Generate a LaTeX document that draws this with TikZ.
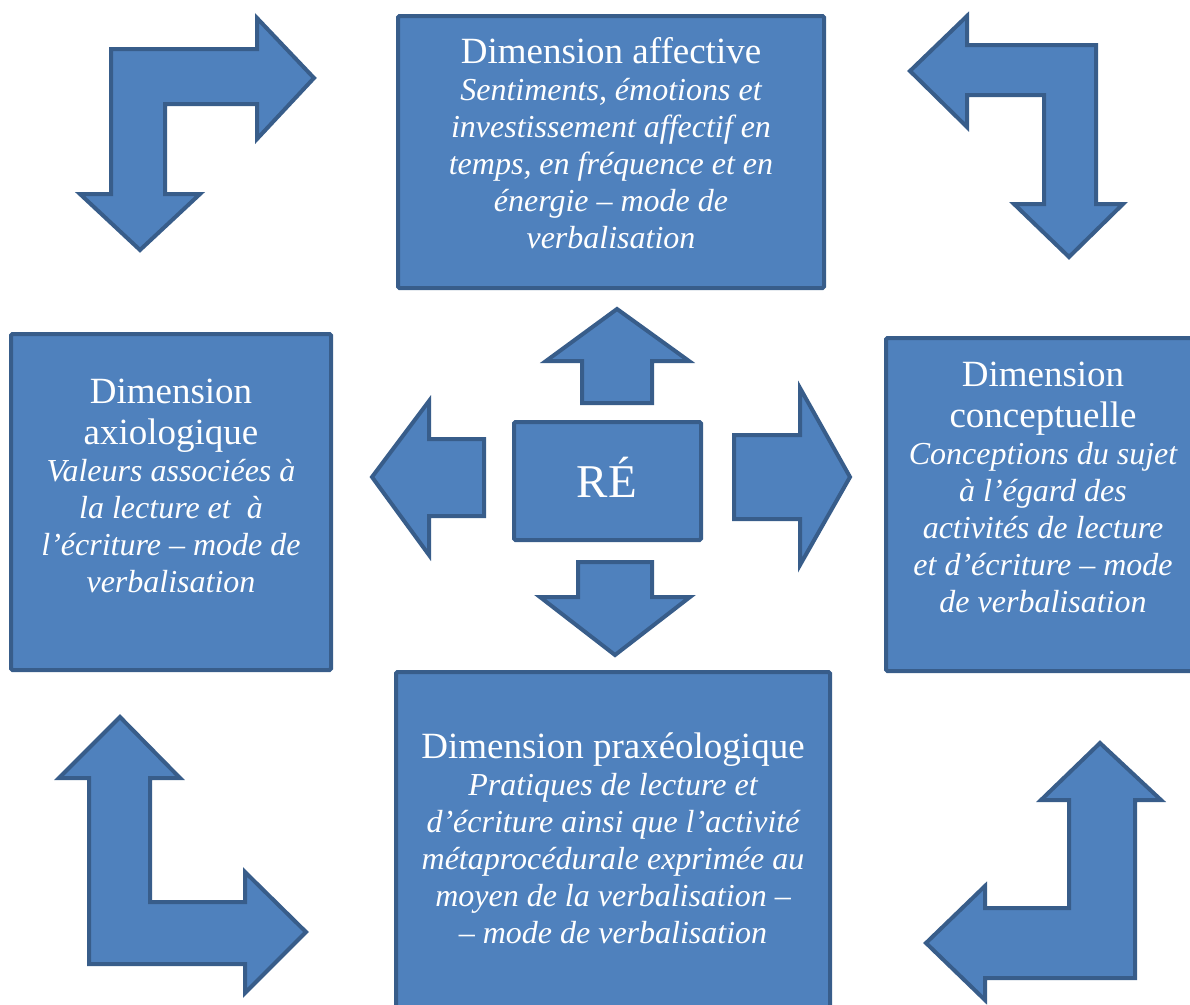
\documentclass[tikz,border=0pt]{standalone}
\usepackage{fontspec}
\setmainfont{Liberation Serif}
\definecolor{boxfill}{HTML}{4F81BD}
\definecolor{boxedge}{HTML}{385D8A}
\begin{document}
\begin{tikzpicture}[x=1pt,y=-1pt,
  shapestyle/.style={draw=boxedge, fill=boxfill, line width=4pt, line join=miter},
  dimbox/.style={shapestyle, rectangle, inner sep=0pt, rounded corners=1.5pt},
  dimtext/.style={text=white, align=center, anchor=base, inner sep=0pt, font=\fontsize{32}{37}\selectfont}]
\useasboundingbox (0,0) rectangle (1190,1004);
\clip (0,0) rectangle (1190,1004);
\newcommand{\ttlfont}{\fontsize{37}{41}\selectfont\upshape}

% boxes
\node[dimbox, minimum width=426pt, minimum height=272pt] (aff) at (611,152) {};
\node[dimbox, minimum width=320pt, minimum height=336pt] (axi) at (171,502) {};
\node[dimbox, minimum width=314pt, minimum height=333pt] (con) at (1043,504.5) {};
\node[dimbox, minimum width=434pt, minimum height=343pt] (pra) at (613,843.5) {};
\node[dimbox, minimum width=187pt, minimum height=118pt] (re) at (607.5,481) {};

% texts (anchored at the baseline of their last line)
\node[dimtext] (afftxt) at (611,248) {{\ttlfont Dimension affective}\\
  \itshape Sentiments, émotions et\\
  \itshape investissement affectif en\\
  \itshape temps, en fréquence et en\\
  \itshape énergie – mode de\\
  \itshape verbalisation};
\node[dimtext] (axitxt) at (171,592) {{\ttlfont Dimension}\\[4pt]
  {\ttlfont axiologique}\\
  \itshape Valeurs associées à\\
  \itshape la lecture et~ à\\
  \itshape l’écriture – mode de\\
  \itshape verbalisation};
\node[dimtext] (context) at (1043,612) {{\ttlfont Dimension}\\[4pt]
  {\ttlfont conceptuelle}\\
  \itshape Conceptions du sujet\\
  \itshape à l’égard des\\
  \itshape activités de lecture\\
  \itshape et d’écriture – mode\\
  \itshape de verbalisation};
\node[dimtext] (pratxt) at (613,943) {{\ttlfont Dimension praxéologique}\\
  \itshape Pratiques de lecture et\\
  \itshape d’écriture ainsi que l’activité\\
  \itshape métaprocédurale exprimée au\\
  \itshape moyen de la verbalisation –\\
  \itshape – mode de verbalisation};
\node[dimtext, font=\fontsize{47}{50}\selectfont] (retxt) at (607,497) {RÉ};

% small arrows around RÉ
\draw[shapestyle] (617,309) -- (689,361) -- (652,361) -- (652,403) -- (582,403) -- (582,361) -- (546,361) -- cycle;
\draw[shapestyle] (578,562) -- (652,562) -- (652,597) -- (690,597) -- (615,655) -- (540,597) -- (578,597) -- cycle;
\draw[shapestyle] (372,477) -- (429,401) -- (429,439) -- (484,439) -- (484,516) -- (429,516) -- (429,555) -- cycle;
\draw[shapestyle] (734,435) -- (800,435) -- (800,388) -- (850,477) -- (800,565) -- (800,519) -- (734,519) -- cycle;

% corner bent arrows
\draw[shapestyle] (111,49) -- (257,49) -- (257,18) -- (314,78) -- (257,139) -- (257,104) -- (165,104) -- (165,194) -- (200,194) -- (140,250) -- (80,194) -- (111,194) -- cycle;
\draw[shapestyle] (910,71) -- (967,16) -- (967,45) -- (1096,45) -- (1096,204) -- (1123,204) -- (1069,257) -- (1014,204) -- (1044,204) -- (1044,95) -- (967,95) -- (967,127) -- cycle;
\draw[shapestyle] (120,717) -- (180,778) -- (150,778) -- (150,902) -- (245,902) -- (245,872) -- (306,932) -- (245,993) -- (245,964) -- (89,964) -- (89,778) -- (59,778) -- cycle;
\draw[shapestyle] (1100,743) -- (1161,800) -- (1135,800) -- (1135,978) -- (985,978) -- (985,1000) -- (926,943) -- (985,886) -- (985,908) -- (1069,908) -- (1069,800) -- (1041,800) -- cycle;
\end{tikzpicture}
\end{document}
